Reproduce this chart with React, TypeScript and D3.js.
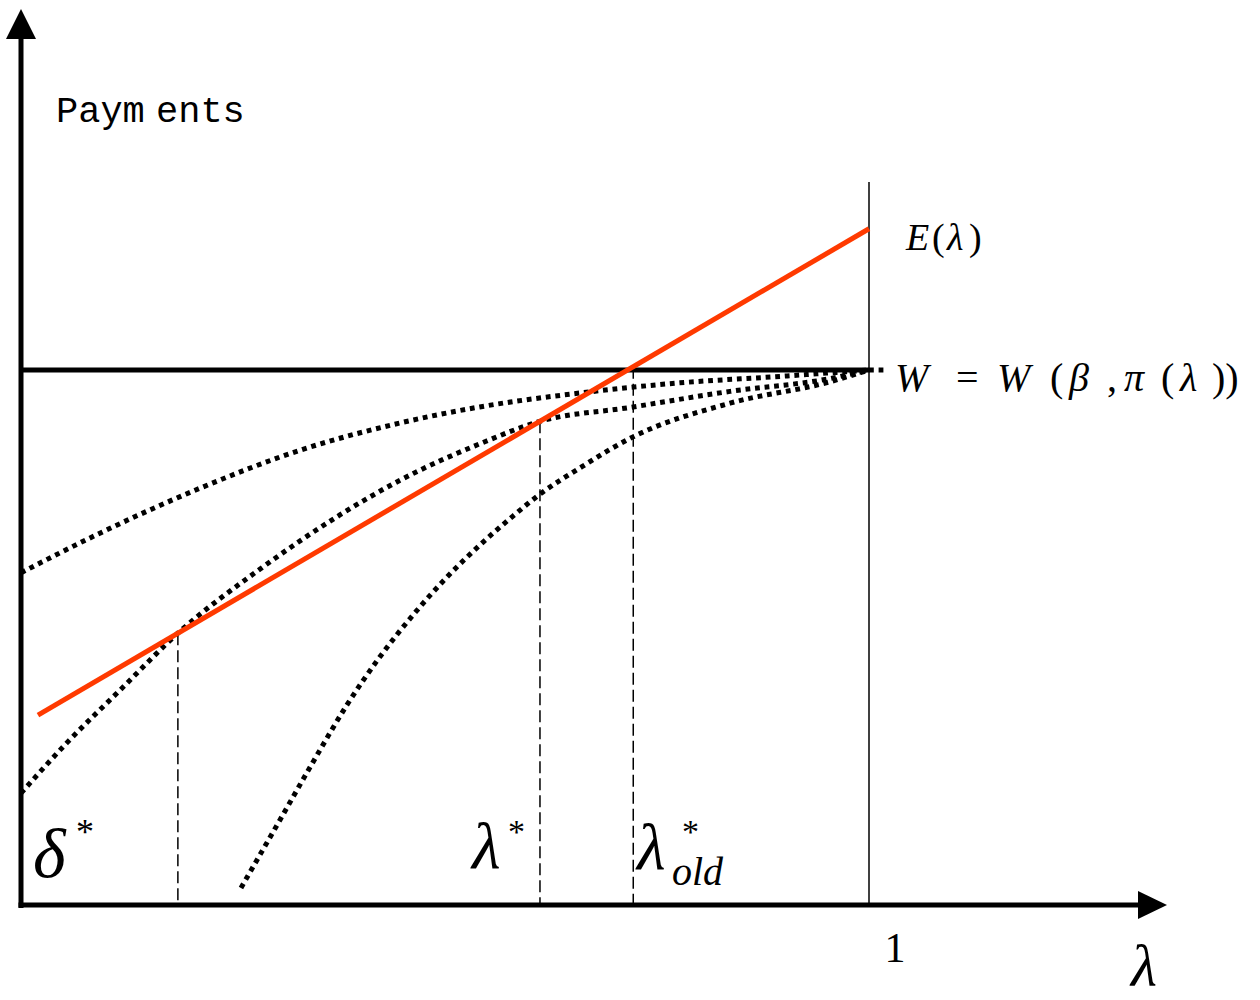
import React from "react";
import * as d3 from "d3";

// λ runs from 0 to 1 along the horizontal axis; payments are scaled so that W = 1.
const eLambda = [0.02, 1.0];
const eValues = [0.355, 1.264];

const wLevel = 1.0;
const wTailEnd = 1.018;

// Three W-curves, all converging to W at λ = 1.
const curveHighLambda = [0, 0.093, 0.211, 0.329, 0.447, 0.541, 0.659, 0.777, 0.895, 1.0];
const curveHighValues = [0.621, 0.695, 0.779, 0.85, 0.901, 0.931, 0.957, 0.976, 0.988, 1.0];

const curveMidLambda = [0, 0.054, 0.117, 0.185, 0.282, 0.376, 0.447, 0.541, 0.612, 0.718, 0.836, 0.954, 1.0];
const curveMidValues = [0.209, 0.303, 0.402, 0.508, 0.628, 0.729, 0.794, 0.862, 0.904, 0.93, 0.96, 0.984, 1.0];

const curveLowLambda = [0.2594, 0.3054, 0.3443, 0.3844, 0.4233, 0.4623, 0.5024, 0.5413, 0.5802, 0.612, 0.6592, 0.7217, 0.8361, 0.954, 1.0];
const curveLowValues = [0.032, 0.159, 0.267, 0.374, 0.464, 0.542, 0.613, 0.673, 0.727, 0.768, 0.817, 0.875, 0.938, 0.978, 1.0];

// Marked thresholds on the λ axis.
const deltaStar = 0.185;
const lambdaStar = 0.612;
const lambdaStarOld = 0.722;

const W = 1260;
const H = 1000;

const x = d3.scaleLinear().domain([0, 1]).range([21, 869]);
const y = d3.scaleLinear().domain([0, 1]).range([905, 370]);

const eAt = (l: number) =>
  eValues[0] + ((eValues[1] - eValues[0]) * (l - eLambda[0])) / (eLambda[1] - eLambda[0]);

const line = d3
  .line<[number, number]>()
  .x((d) => x(d[0]))
  .y((d) => y(d[1]))
  .curve(d3.curveMonotoneX);

const zip = (a: number[], b: number[]) => a.map((v, i) => [v, b[i]] as [number, number]);

const serif = "'Liberation Serif', 'Times New Roman', serif";
const red = "#ff3a00";

export default function App() {
  const dotted = { fill: "none", stroke: "#000", strokeWidth: 5, strokeDasharray: "4.8 4.8" };
  const dashes = [deltaStar, lambdaStar, lambdaStarOld];
  return (
    <svg
      width={W}
      height={H}
      viewBox={`0 0 ${W} ${H}`}
      style={{ position: "absolute", left: 0, top: 0, background: "#fff" }}
    >
      <rect width={W} height={H} fill="#fff" />

      {/* vertical line at λ = 1 */}
      <line x1={x(1)} x2={x(1)} y1={182} y2={y(0)} stroke="#000" strokeWidth={1.5} />

      {/* dashed drop lines from E(λ) */}
      {dashes.map((l, i) => (
        <line
          key={i}
          x1={x(l)}
          x2={x(l)}
          y1={y(eAt(l))}
          y2={y(0)}
          stroke="#000"
          strokeWidth={1.5}
          strokeDasharray="12 5"
        />
      ))}

      {/* W level */}
      <line x1={x(0)} x2={x(1)} y1={y(wLevel)} y2={y(wLevel)} stroke="#000" strokeWidth={5} />
      <line x1={x(1)} x2={x(wTailEnd)} y1={y(wLevel)} y2={y(wLevel)} {...dotted} />

      {/* W curves */}
      <path d={line(zip(curveHighLambda, curveHighValues)) || ""} {...dotted} />
      <path d={line(zip(curveMidLambda, curveMidValues)) || ""} {...dotted} />
      <path d={line(zip(curveLowLambda, curveLowValues)) || ""} {...dotted} />

      {/* E(λ) */}
      <line
        x1={x(eLambda[0])}
        y1={y(eValues[0])}
        x2={x(eLambda[1])}
        y2={y(eValues[1])}
        stroke={red}
        strokeWidth={5}
      />

      {/* axes */}
      <line x1={21} x2={21} y1={908} y2={36} stroke="#000" strokeWidth={5} />
      <path d="M21,9 L6,39 L36,39 Z" fill="#000" />
      <line x1={18.5} x2={1140} y1={905} y2={905} stroke="#000" strokeWidth={5} />
      <path d="M1167,905 L1138,891 L1138,919 Z" fill="#000" />

      {/* labels */}
      <text
        fontFamily="'Liberation Mono', 'Courier New', monospace"
        fontSize={37}
        y={122}
        fill="#000"
      >
        <tspan x={56}>Paym</tspan>
        <tspan x={156}>ents</tspan>
      </text>

      <text fontFamily={serif} fontSize={38} y={250} fill="#000">
        <tspan x={906} fontStyle="italic">E</tspan>
        <tspan x={932}>(</tspan>
        <tspan x={947} fontStyle="italic">λ</tspan>
        <tspan x={969}>)</tspan>
      </text>

      <text fontFamily={serif} fontSize={40} y={391} fill="#000">
        <tspan x={895} fontStyle="italic">W</tspan>
        <tspan x={956}>=</tspan>
        <tspan x={997} fontStyle="italic">W</tspan>
        <tspan x={1050}>(</tspan>
        <tspan x={1069} fontStyle="italic">β</tspan>
        <tspan x={1107}>,</tspan>
        <tspan x={1124} fontStyle="italic">π</tspan>
        <tspan x={1161}>(</tspan>
        <tspan x={1180} fontStyle="italic">λ</tspan>
        <tspan x={1212}>))</tspan>
      </text>

      <text fontFamily={serif} fontSize={42} x={895} y={962} textAnchor="middle" fill="#000">
        1
      </text>

      <text fontFamily={serif} fontSize={60} fontStyle="italic" x={1131} y={986} fill="#000">
        λ
      </text>

      <text fontFamily={serif} fill="#000">
        <tspan x={33} y={877} fontSize={70} fontStyle="italic">δ</tspan>
        <tspan x={76} y={844} fontSize={36}>*</tspan>
      </text>

      <text fontFamily={serif} fill="#000">
        <tspan x={472} y={868} fontSize={66} fontStyle="italic">λ</tspan>
        <tspan x={508} y={843} fontSize={34}>*</tspan>
      </text>

      <text fontFamily={serif} fill="#000">
        <tspan x={637} y={869} fontSize={66} fontStyle="italic">λ</tspan>
        <tspan x={682} y={843} fontSize={34}>*</tspan>
        <tspan x={672} y={885} fontSize={40} fontStyle="italic">old</tspan>
      </text>
    </svg>
  );
}
